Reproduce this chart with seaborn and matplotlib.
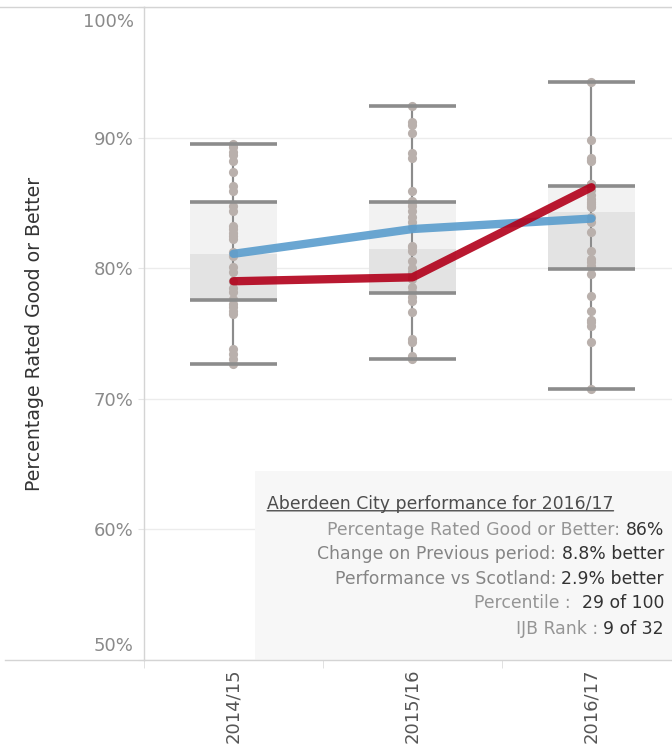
import numpy as np
import pandas as pd
import seaborn as sns
import matplotlib.pyplot as plt
from matplotlib.patches import Rectangle
from matplotlib.lines import Line2D

# Care inspections: % rated good or better, one dot per IJB (32 of them)
years = ["2014/15", "2015/16", "2016/17"]

ijb_1415 = [72.7, 73.05, 73.44, 73.82, 76.49, 76.72, 77.0, 77.25, 77.63, 78.17, 78.5, 79.0,
            79.01, 79.69, 80.08, 80.9, 81.22, 82.21, 82.44, 82.7, 82.98, 83.21, 84.35, 84.8,
            85.88, 86.26, 87.4, 88.17, 88.7, 88.93, 89.31, 89.54]
ijb_1516 = [73.05, 73.1, 73.28, 74.35, 74.58, 76.64, 77.48, 77.79, 78.17, 78.55, 79.16, 79.3,
            79.69, 80.0, 80.53, 81.3, 81.6, 81.68, 83.13, 83.51, 83.89, 84.35, 84.73, 85.1,
            85.11, 85.88, 88.47, 88.85, 90.38, 90.99, 91.22, 92.44]
ijb_1617 = [70.76, 74.35, 75.57, 75.88, 76.0, 76.72, 77.86, 79.54, 80.08, 80.2, 80.46, 80.69,
            81.3, 82.75, 83.51, 83.89, 84.65, 84.8, 84.9, 85.04, 85.3, 85.6, 86.0, 86.3,
            86.38, 86.41, 86.45, 88.17, 88.3, 88.47, 89.85, 94.27]

scotland = [81.1, 83.0, 83.8]
aberdeen = [79.0, 79.3, 86.2]

yticks = [50, 60, 70, 80, 90, 100]
ytick_labels = ["50%", "60%", "70%", "80%", "90%", "100%"]

summary_title = "Aberdeen City performance for 2016/17"
summary_labels = ["Percentage Rated Good or Better:", "Change on Previous period:",
                  "Performance vs Scotland:", "Percentile : ", "IJB Rank :"]
summary_values = ["86%", "8.8% better", "2.9% better", "29 of 100", "9 of 32"]

df = pd.DataFrame({
    "year": np.repeat(years, 32),
    "pct": ijb_1415 + ijb_1516 + ijb_1617,
})

box_w = 0.49
grey = "#8c8c8c"
frame = "#d4d4d4"
tick_col = "#8a8a8a"
fs = 12.4

fig = plt.figure(figsize=(6.72, 7.49), dpi=100)
ax = fig.add_axes([144 / 672, 89 / 749, 528 / 672, 653 / 749])

# box: light upper half from seaborn, darker lower half on top
sns.boxplot(data=df, x="year", y="pct", order=years, whis=(0, 100), width=box_w,
            color="#f2f2f2", saturation=1, linecolor=grey, linewidth=1.5,
            showfliers=False, medianprops={"visible": False},
            capprops={"visible": False}, ax=ax)
for p in ax.patches:
    p.set_linewidth(0)

pos = np.arange(len(years))
stats = np.array([np.percentile(df.loc[df.year == y, "pct"], [0, 25, 50, 75, 100])
                  for y in years])
ax.bar(pos, stats[:, 2] - stats[:, 1], bottom=stats[:, 1], width=box_w,
       color="#e3e3e3", zorder=2.05)
ax.vlines(pos, stats[:, 0], stats[:, 4], color=grey, lw=1.5, zorder=2.1)
for k in [0, 1, 3, 4]:
    ax.hlines(stats[:, k], pos - box_w / 2, pos + box_w / 2, color=grey, lw=2.6, zorder=4)

sns.stripplot(data=df, x="year", y="pct", order=years, jitter=False, color="#b9b0ac",
              size=6.6, linewidth=0, zorder=3, ax=ax)

sns.lineplot(x=pos, y=scotland, color="#5a9dcd", lw=6, alpha=0.9,
             solid_capstyle="round", zorder=5, ax=ax)
sns.lineplot(x=pos, y=aberdeen, color="#b2001a", lw=6, alpha=0.9,
             solid_capstyle="round", zorder=6, ax=ax)

ax.set_xlim(-0.5, 2.45)
ax.set_ylim(50, 100)

# end labels sit inside the range, as in the original
ax.set_yticks(yticks)
ax.set_yticklabels([""] + ytick_labels[1:-1] + [""])
ax.tick_params(axis="y", length=4.5, color="#e6e6e6", labelcolor=tick_col,
               labelsize=13, pad=3)
ytr = ax.get_yaxis_transform()
ax.annotate(ytick_labels[0], xy=(0, yticks[0]), xycoords=ytr, xytext=(-7.5, 10),
            textcoords="offset points", ha="right", va="center", color=tick_col, fontsize=13)
ax.annotate(ytick_labels[-1], xy=(0, yticks[-1]), xycoords=ytr, xytext=(-7.5, -11),
            textcoords="offset points", ha="right", va="center", color=tick_col, fontsize=13)

ax.set_xticks(pos)
ax.set_xticklabels(years, rotation=90)
ax.tick_params(axis="x", which="major", length=0, pad=6, labelcolor="#555555", labelsize=13)
ax.set_xticks(np.append(-0.5, pos[:-1] + 0.5), minor=True)
ax.tick_params(axis="x", which="minor", length=6, color="#dcdcdc")

ax.set_axisbelow(True)
ax.grid(axis="y", color="#ececec", lw=1)
ax.grid(axis="x", visible=False)

ax.set_xlabel("")
ax.set_ylabel("Percentage Rated Good or Better", fontsize=13.6, color="#333333")
ax.yaxis.set_label_coords(-0.19, 0.5)

for s in ["left", "top", "bottom"]:
    ax.spines[s].set_color(frame)
    ax.spines[s].set_linewidth(1)
ax.spines["right"].set_visible(False)

# header borders continue across the y-axis area
fig.add_artist(Line2D([0, 144 / 672], [1 - 7 / 749] * 2, color=frame, lw=1))
fig.add_artist(Line2D([5 / 672, 144 / 672], [89 / 749] * 2, color=frame, lw=1))

# summary panel
ax.add_patch(Rectangle((0.21, 0.0), 0.79, 0.29, transform=ax.transAxes,
                       facecolor="#f7f7f7", edgecolor="none", zorder=1.8))

t_title = ax.text(0.233, 0.239, summary_title, transform=ax.transAxes, ha="left",
                  va="center", color="#4d4d4d", fontsize=fs, zorder=7)
ax.annotate("", xy=(0, 0.12), xycoords=t_title, xytext=(1, 0.12), textcoords=t_title,
            arrowprops=dict(arrowstyle="-", color="#4d4d4d", lw=1, shrinkA=0, shrinkB=0),
            zorder=7)

line_y = [0.199, 0.162, 0.124, 0.087, 0.047]
label_cols = ["#959595", "#858585", "#858585", "#959595", "#959595"]
for yy, lab, val, lc in zip(line_y, summary_labels, summary_values, label_cols):
    tv = ax.text(0.985, yy, val, transform=ax.transAxes, ha="right", va="center",
                 color="#333333", fontsize=fs, zorder=7)
    ax.annotate(lab, xy=(0, 0), xycoords=tv, xytext=(-4, 0), textcoords="offset points",
                ha="right", va="bottom", color=lc, fontsize=fs, zorder=7)

fig.savefig("out.png", dpi=100)
